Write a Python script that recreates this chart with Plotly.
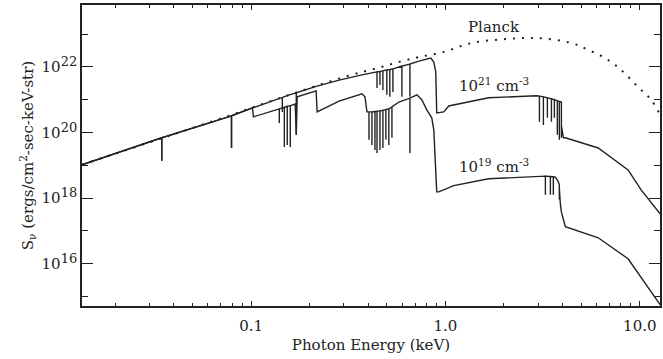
import plotly.graph_objects as go

# ---------------- data (photon energy in keV, log10 of S_nu) ----------------
planck_E = [0.01349, 0.0793, 0.1572, 0.3083, 0.4550, 0.5900, 0.7296, 0.9801,
            1.365, 2.039, 3.007, 4.446, 5.434, 6.637, 8.016, 9.795, 11.43, 12.72]
planck_logS = [19.02, 20.54, 21.15, 21.71, 21.98, 22.17, 22.30, 22.46,
               22.73, 22.85, 22.88, 22.73, 22.52, 22.27, 21.91, 21.39, 21.00, 20.54]

# n = 1e21 cm^-3 (absorption lines given as continuum / dip / continuum triples)
dense_E = [0.01349,
           0.0347, 0.0347, 0.0347,
           0.0793, 0.0793, 0.0793,
           0.1016,
           0.1448, 0.1448, 0.1448,
           0.1572,
           0.1708, 0.1708, 0.1708,
           0.2161, 0.2836, 0.3724,
           0.4446, 0.4446, 0.4446,
           0.4603, 0.4603, 0.4603,
           0.4767, 0.4767, 0.4767,
           0.4996, 0.4996, 0.4996,
           0.5174, 0.5174, 0.5174,
           0.5368, 0.5368, 0.5368,
           0.5970, 0.5970, 0.5970,
           0.6566, 0.6566, 0.6566,
           0.7296, 0.8408, 0.8711, 0.8916, 0.9021, 0.9801, 1.040, 1.668, 2.937,
           3.045, 3.045, 3.045,
           3.192, 3.192, 3.192,
           3.346, 3.346, 3.346,
           3.510, 3.510, 3.510,
           3.635, 3.635, 3.635,
           3.765, 3.765, 3.765,
           3.856, 3.856, 3.856,
           3.951, 3.951, 3.951,
           4.047, 4.141, 6.113, 8.704, 10.16, 12.72]
dense_logS = [19.015,
              19.84, 19.14, 19.84,
              20.51, 19.53, 20.51,
              20.75,
              21.07, 20.63, 21.07,
              21.15,
              21.21, 19.93, 21.21,
              21.41, 21.60, 21.76,
              21.85, 21.36, 21.85,
              21.86, 21.45, 21.86,
              21.88, 21.30, 21.88,
              21.91, 21.15, 21.91,
              21.92, 21.09, 21.92,
              21.94, 21.24, 21.94,
              22.03, 21.09, 22.03,
              22.09, 21.09, 22.09,
              22.18, 22.27, 22.15, 21.85, 20.60, 20.63, 20.81, 21.06, 21.12,
              21.11, 20.33, 21.11,
              21.09, 20.23, 21.09,
              21.06, 20.45, 21.06,
              21.03, 20.33, 21.03,
              21.00, 20.45, 21.00,
              20.97, 19.93, 20.97,
              20.95, 19.78, 20.95,
              20.93, 19.84, 20.20,
              19.84, 19.84, 19.53, 18.86, 18.25, 17.52]

# n = 1e19 cm^-3
thin_E = [0.01349,
          0.0347, 0.0347, 0.0347,
          0.0793, 0.0793, 0.0793,
          0.1016, 0.1028,
          0.1397, 0.1397, 0.1397,
          0.1483, 0.1483, 0.1483,
          0.1535, 0.1535, 0.1535,
          0.1591, 0.1591, 0.1591,
          0.1687, 0.1708, 0.1727,
          0.2161, 0.2187, 0.2836, 0.3724, 0.3855, 0.3946,
          0.4042, 0.4042, 0.4042,
          0.4187, 0.4187, 0.4187,
          0.4339, 0.4339, 0.4339,
          0.4446, 0.4446, 0.4446,
          0.4603, 0.4603, 0.4603,
          0.4767, 0.4767, 0.4767,
          0.4938, 0.4938, 0.4938,
          0.5114, 0.5114, 0.5114,
          0.5306, 0.5306, 0.5306,
          0.5763,
          0.6566, 0.6566, 0.6566,
          0.7130, 0.7556, 0.8017, 0.8505, 0.8711, 0.8916, 0.9021, 0.9243,
          1.104, 1.668, 3.007,
          3.268, 3.268, 3.268,
          3.467, 3.467, 3.467,
          3.591, 3.591, 3.591,
          3.679, 3.810,
          3.856, 3.856, 3.856,
          3.905, 3.951, 4.047, 4.141, 6.113, 8.704, 12.72]
thin_logS = [19.015,
             19.84, 19.14, 19.84,
             20.51, 19.53, 20.51,
             20.75, 20.48,
             20.72, 20.29, 20.72,
             20.77, 19.56, 20.77,
             20.80, 19.62, 20.80,
             20.82, 19.56, 20.82,
             20.87, 19.93, 21.09,
             21.27, 20.63, 20.96, 21.18, 21.09, 20.63,
             20.63, 19.78, 20.63,
             20.63, 19.62, 20.63,
             20.64, 19.47, 20.64,
             20.65, 19.38, 20.65,
             20.66, 19.47, 20.66,
             20.68, 19.53, 20.68,
             20.70, 19.78, 20.70,
             20.72, 19.62, 20.72,
             20.78, 19.84, 20.78,
             20.93,
             21.05, 19.38, 21.05,
             21.15, 21.00, 20.69, 20.45, 20.08, 18.95, 18.19, 18.19,
             18.38, 18.59, 18.68,
             18.67, 18.10, 18.67,
             18.66, 18.10, 18.66,
             18.65, 18.10, 18.65,
             18.64, 18.50,
             18.40, 17.95, 18.30,
             17.80, 17.58, 17.34, 17.13, 16.79, 16.15, 14.75]

x_tick_vals = [0.1, 1.0, 10.0]
x_tick_text = ["0.1", "1.0", "10.0"]
x_minor_vals = [0.02, 0.03, 0.04, 0.05, 0.06, 0.07, 0.08, 0.09,
                0.2, 0.3, 0.4, 0.5, 0.6, 0.7, 0.8, 0.9,
                2, 3, 4, 5, 6, 7, 8, 9]
y_major_exps = [16, 18, 20, 22]
y_minor_exps = [15, 17, 19, 21, 23]

# ---------------- figure ----------------
INK = "#222222"
FONT = "DejaVu Serif"


def sup(e):
    return "10<sup><span style='font-size:13px'>%d</span></sup>" % e


fig = go.Figure()
fig.add_trace(go.Scatter(x=planck_E, y=[10 ** v for v in planck_logS], mode="lines",
                         line=dict(color=INK, width=2, dash="2px,7px", shape="spline"),
                         hoverinfo="skip"))
fig.add_trace(go.Scatter(x=dense_E, y=[10 ** v for v in dense_logS], mode="lines",
                         line=dict(color=INK, width=1.4), hoverinfo="skip"))
fig.add_trace(go.Scatter(x=thin_E, y=[10 ** v for v in thin_logS], mode="lines",
                         line=dict(color=INK, width=1.4), hoverinfo="skip"))

fig.update_layout(
    width=663, height=359,
    margin=dict(l=82, r=1, t=5, b=53),
    paper_bgcolor="white", plot_bgcolor="white",
    showlegend=False,
    font=dict(family=FONT, size=15, color=INK),
    xaxis=dict(
        type="log", range=[-1.870, 1.104],
        tickmode="array", tickvals=x_tick_vals, ticktext=x_tick_text,
        ticks="inside", ticklen=5, tickwidth=1.2, tickcolor=INK,
        minor=dict(tickmode="array", tickvals=x_minor_vals, ticks="inside",
                   ticklen=3, tickwidth=1, tickcolor=INK, showgrid=False),
        showline=True, linecolor=INK, linewidth=1.6, mirror="ticks",
        showgrid=False, zeroline=False,
        ticklabelstandoff=5,
        tickfont=dict(family=FONT, size=15, color=INK),
        title=dict(text="Photon Energy (keV)", font=dict(family=FONT, size=15, color=INK),
                   standoff=6),
    ),
    yaxis=dict(
        type="log", range=[14.71, 23.89],
        tickmode="array", tickvals=[10.0 ** e for e in y_major_exps],
        ticktext=[sup(e) for e in y_major_exps],
        ticks="inside", ticklen=11, tickwidth=1.2, tickcolor=INK,
        minor=dict(tickmode="array", tickvals=[10.0 ** e for e in y_minor_exps],
                   ticks="inside", ticklen=6, tickwidth=1, tickcolor=INK, showgrid=False),
        showline=True, linecolor=INK, linewidth=1.6, mirror="ticks",
        showgrid=False, zeroline=False,
        tickfont=dict(family=FONT, size=15, color=INK),
        title=dict(text="S<sub>ν</sub> (ergs/cm<sup>2</sup>-sec-keV-str)",
                   font=dict(family=FONT, size=15, color=INK), standoff=4),
    ),
    annotations=[
        dict(x=0.248, y=23.22, xref="x", yref="y", text="Planck", showarrow=False,
             xanchor="center", yanchor="middle", font=dict(family=FONT, size=15, color=INK)),
        dict(x=0.248, y=21.45, xref="x", yref="y", text="10<sup>21</sup> cm<sup>-3</sup>",
             showarrow=False, xanchor="center", yanchor="middle",
             font=dict(family=FONT, size=15, color=INK)),
        dict(x=0.248, y=18.98, xref="x", yref="y", text="10<sup>19</sup> cm<sup>-3</sup>",
             showarrow=False, xanchor="center", yanchor="middle",
             font=dict(family=FONT, size=15, color=INK)),
    ],
)

fig.write_html("out.html",
               config={"displayModeBar": False},
               post_script="document.body.style.margin='0';document.body.style.overflow='hidden';")
